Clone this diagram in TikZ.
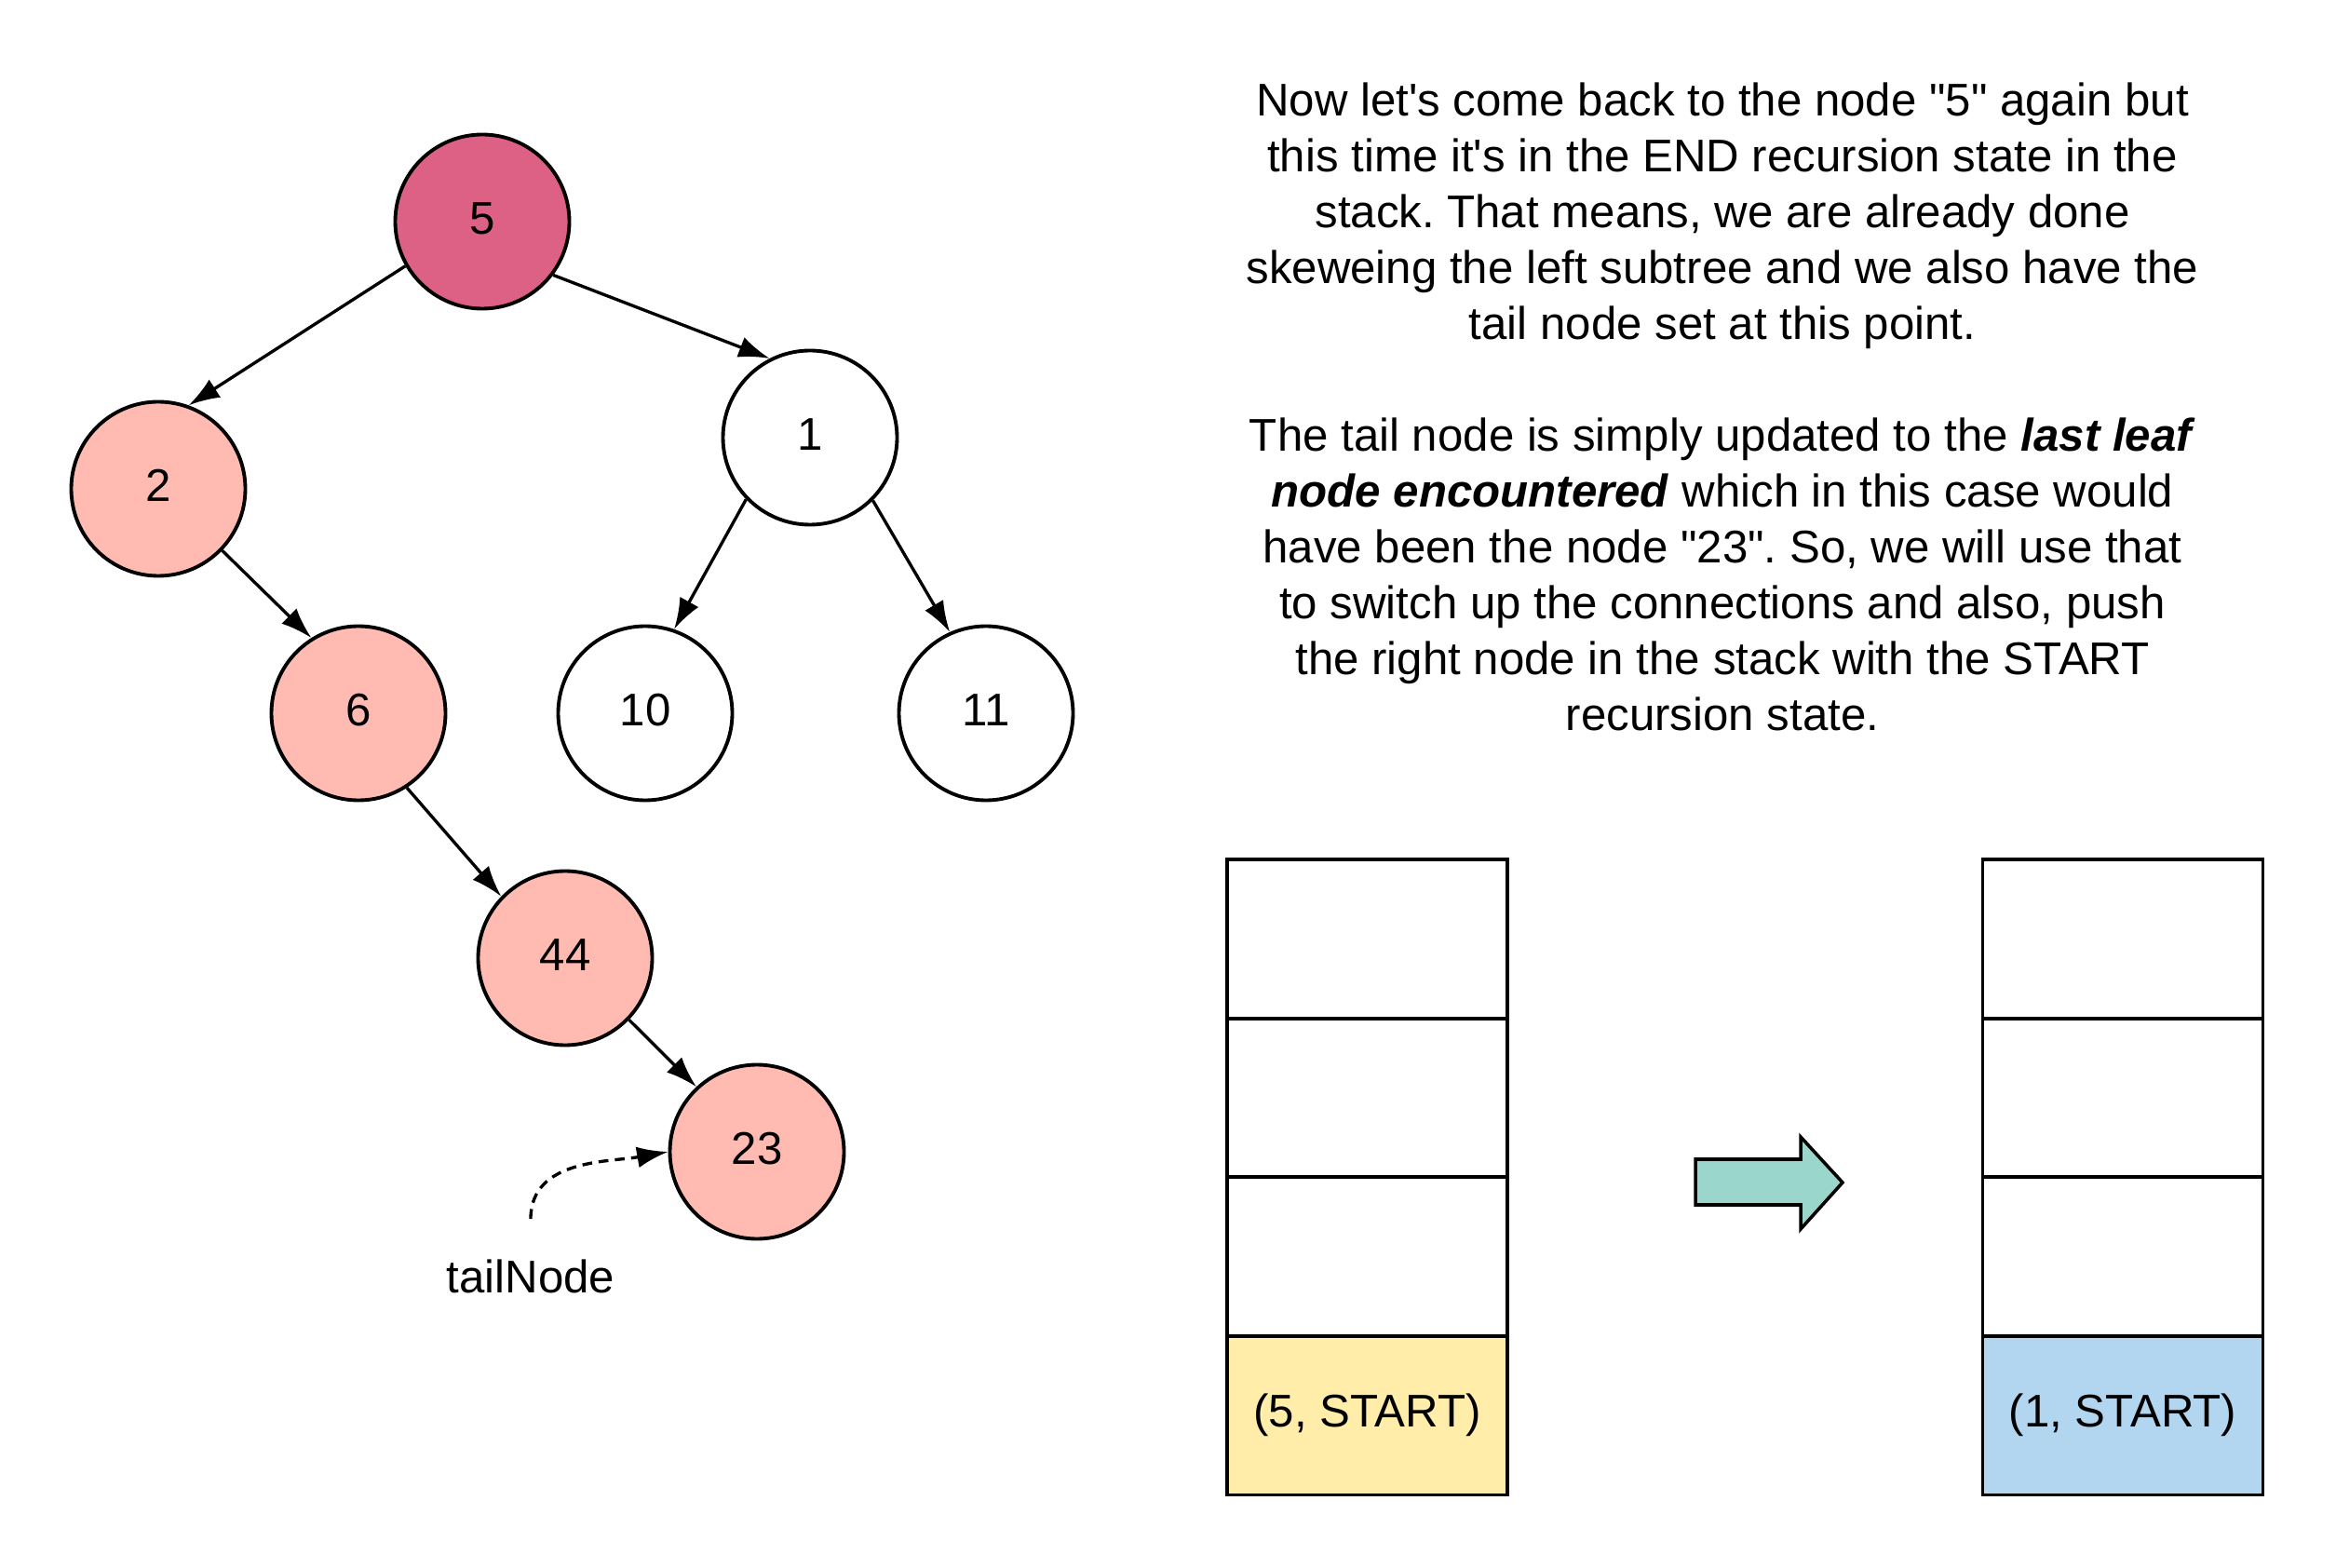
\documentclass[tikz,border=0pt]{standalone}
\usepackage{fontspec}
\setmainfont{Liberation Sans}[Ligatures=TeXOff]
\usepackage{tikz}
\usetikzlibrary{arrows.meta, positioning}
\frenchspacing
\definecolor{rootpink}{HTML}{DD6085}
\definecolor{visited}{HTML}{FFBBB1}
\definecolor{cellyellow}{HTML}{FFEDA9}
\definecolor{cellblue}{HTML}{B2D6EF}
\definecolor{arrowteal}{HTML}{9AD6CB}
\tikzset{treenode/.style={circle, draw, line width=1.1pt, minimum size=1.87cm, inner sep=0pt, text depth=0.2em, fill=#1}}
\tikzset{treenode/.default=white}
\tikzset{child/.style={-{Latex[length=9.5pt, width=6.5pt]}, line width=0.95pt}}
\tikzset{pointer/.style={-{Latex[length=9.5pt, width=6.5pt]}, line width=0.95pt, dash pattern=on 3pt off 2pt}}
\tikzset{cell/.style={rectangle, draw, line width=1pt, minimum width=3.01cm, minimum height=1.705cm, inner sep=0pt, outer sep=0pt, fill=#1}}
\tikzset{cell/.default=white}

\begin{document}
\begin{tikzpicture}[font=\fontsize{14}{17.07}\selectfont]
            \useasboundingbox (0, 0) rectangle (25.09, -16.84);
            % tree
            \node[treenode=rootpink] (n5) at (5.18, -2.38) {5};
            \node[treenode=visited] (n2) at (1.70, -5.25) {2};
            \node[treenode] (n1) at (8.70, -4.70) {1};
            \node[treenode=visited] (n6) at (3.85, -7.66) {6};
            \node[treenode] (n10) at (6.93, -7.66) {10};
            \node[treenode] (n11) at (10.59, -7.66) {11};
            \node[treenode=visited] (n44) at (6.07, -10.29) {44};
            \node[treenode=visited] (n23) at (8.13, -12.37) {23};
            \draw[child] (n5.210) -- (n2.70);
            \draw[child] (n5.-37) -- (n1.117);
            \draw[child] (n2.-44) -- (n6.122);
            \draw[child] (n1.224) -- (n10.71);
            \draw[child] (n1.-45) -- (n11.114);
            \draw[child] (n6.-57) -- (n44.136);
            \draw[child] (n44.-44) -- (n23.133);
            % tail pointer
            \node (tailLabel) at (5.70, -13.71) {tailNode};
            \coordinate (tailStart) at (5.70, -13.09);
            \draw[pointer] (tailStart) to[out=90, in=190] (n23.west);
            % explanation
            \node[align=center] (story) at (18.50, -4.37) {Now let's come back to the node "5" again but\\
                this time it's in the END recursion state in the\\
                stack. That means, we are already done\\
                skeweing the left subtree and we also have the\\
                tail node set at this point.\\[17.07pt]
                The tail node is simply updated to the \textbf{\textit{last leaf}}\\
                \textbf{\textit{node encountered}} which in this case would\\
                have been the node "23". So, we will use that\\
                to switch up the connections and also, push\\
                the right node in the stack with the START\\
                recursion state.};
            % stack before
            \node[cell] (before1) at (14.685, -10.085) {};
            \node[cell, below=0pt of before1] (before2) {};
            \node[cell, below=0pt of before2] (before3) {};
            \node[cell=cellyellow, below=0pt of before3] (before4) {(5, START)};
            % stack after
            \node[cell] (after1) at (22.80, -10.085) {};
            \node[cell, below=0pt of after1] (after2) {};
            \node[cell, below=0pt of after2] (after3) {};
            \node[cell=cellblue, below=0pt of after3] (after4) {(1, START)};
            % transition arrow
            \draw[line width=1pt, fill=arrowteal] (18.21, -12.45) -- (19.34, -12.45) -- (19.34, -12.21) -- (19.79, -12.70)
                -- (19.34, -13.20) -- (19.34, -12.94) -- (18.21, -12.94) -- cycle;
        \end{tikzpicture}
\end{document}
